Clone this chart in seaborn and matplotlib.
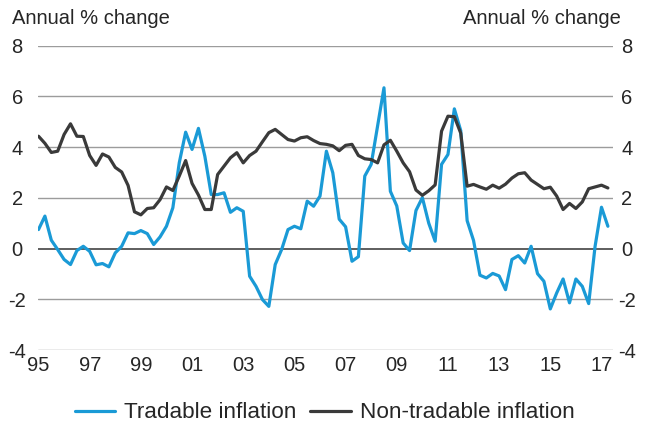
import matplotlib
matplotlib.use('Agg')
import matplotlib.pyplot as plt
import matplotlib.transforms as mtransforms
import seaborn as sns
import pandas as pd
import numpy as np

# quarterly, 1995Q1 - 2017Q2
quarters = pd.period_range('1995Q1', periods=90, freq='Q')

tradable = [
    0.75, 1.28, 0.33, -0.04, -0.43, -0.63, -0.08, 0.09, -0.11, -0.64,
    -0.59, -0.72, -0.17, 0.09, 0.62, 0.59, 0.71, 0.59, 0.16, 0.46,
    0.88, 1.61, 3.38, 4.59, 3.91, 4.74, 3.64, 2.13, 2.13, 2.20,
    1.43, 1.61, 1.47, -1.09, -1.49, -2.01, -2.28, -0.63, -0.04, 0.75,
    0.88, 0.78, 1.87, 1.67, 2.07, 3.84, 2.99, 1.16, 0.86, -0.50,
    -0.32, 2.86, 3.32, 4.83, 6.34, 2.26, 1.68, 0.22, -0.08, 1.50,
    2.01, 1.00, 0.29, 3.32, 3.71, 5.51, 4.65, 1.10, 0.32, -1.05,
    -1.16, -0.98, -1.08, -1.62, -0.43, -0.28, -0.57, 0.09, -0.99, -1.29,
    -2.38, -1.75, -1.20, -2.14, -1.20, -1.49, -2.17, 0.09, 1.63, 0.88,
]

non_tradable = [
    4.43, 4.15, 3.79, 3.84, 4.50, 4.92, 4.43, 4.42, 3.67, 3.28,
    3.73, 3.61, 3.20, 3.02, 2.49, 1.45, 1.33, 1.58, 1.61, 1.93,
    2.43, 2.29, 2.86, 3.47, 2.57, 2.11, 1.54, 1.54, 2.92, 3.25,
    3.58, 3.78, 3.38, 3.67, 3.84, 4.21, 4.57, 4.70, 4.50, 4.30,
    4.24, 4.37, 4.41, 4.26, 4.14, 4.11, 4.05, 3.86, 4.07, 4.11,
    3.67, 3.54, 3.51, 3.38, 4.09, 4.27, 3.84, 3.38, 3.03, 2.31,
    2.10, 2.28, 2.51, 4.63, 5.22, 5.20, 4.55, 2.46, 2.53, 2.43,
    2.34, 2.50, 2.38, 2.54, 2.78, 2.95, 2.99, 2.70, 2.53, 2.36,
    2.42, 2.07, 1.54, 1.78, 1.58, 1.84, 2.36, 2.43, 2.50, 2.39,
]

series_names = ['Tradable inflation', 'Non-tradable inflation']
series_colors = ['#1a9ad6', '#3a3a3a']
year_ticks = list(range(1995, 2018, 2))
y_ticks = [-4, -2, 0, 2, 4, 6, 8]

x = quarters.year + (quarters.quarter - 1) / 4.0
df = pd.DataFrame({
    'date': np.concatenate([x, x]),
    'value': tradable + non_tradable,
    'series': [series_names[0]] * len(tradable) + [series_names[1]] * len(non_tradable),
})

sns.set_style('white')
plt.rcParams['font.family'] = ['Liberation Sans', 'DejaVu Sans']

fig = plt.figure(figsize=(6.53, 4.28), dpi=100)
ax = fig.add_axes([38 / 653, 1 - 350 / 428, 575 / 653, (350 - 45.7) / 428])

# gridlines, zero line darker
for yv in y_ticks:
    if yv == 0:
        ax.axhline(yv, color='#333333', lw=1.1, zorder=1)
    else:
        ax.axhline(yv, color='#9c9c9c', lw=1.0, zorder=1)

sns.lineplot(data=df, x='date', y='value', hue='series', hue_order=series_names,
             palette=series_colors, linewidth=2.3, ax=ax, legend=False, zorder=3)

ax.set_xlim(1994.98, 2017.45)
ax.set_ylim(-4, 8)
ax.set_xticks(year_ticks)
ax.set_xticklabels([f'{y % 100:02d}' for y in year_ticks])
ax.set_yticks(y_ticks)
ax.set_yticklabels([str(v) for v in y_ticks])
ax.tick_params(axis='x', length=0, pad=4, labelsize=14.5)
ax.tick_params(axis='y', which='major', length=0, labelsize=14.5, labelleft=True, labelright=True)
for t in ax.yaxis.get_major_ticks():
    t.label1.set_horizontalalignment('center')
    t.label2.set_horizontalalignment('center')
    t.set_pad(15)
ax.set_xlabel('')
ax.set_ylabel('')
for s in ax.spines.values():
    s.set_visible(False)

fig.canvas.draw()
# right side labels sit closer to the plot
offset = mtransforms.ScaledTranslation(-7 / 100, 0, fig.dpi_scale_trans)
for t in ax.yaxis.get_major_ticks():
    t.label2.set_transform(t.label2.get_transform() + offset)

fig.text(12 / 653, 1 - 18 / 428, 'Annual % change', fontsize=14.5, ha='left', va='center')
fig.text(621 / 653, 1 - 18 / 428, 'Annual % change', fontsize=14.5, ha='right', va='center')

handles = [plt.Line2D([], [], color=c, lw=2.3) for c in series_colors]
fig.legend(handles, series_names, loc='center', bbox_to_anchor=(0.497, 1 - 413 / 428),
           ncol=2, frameon=False, fontsize=16.2, handlelength=1.8, handletextpad=0.4,
           columnspacing=0.6)

plt.savefig('out.png', dpi=100)
